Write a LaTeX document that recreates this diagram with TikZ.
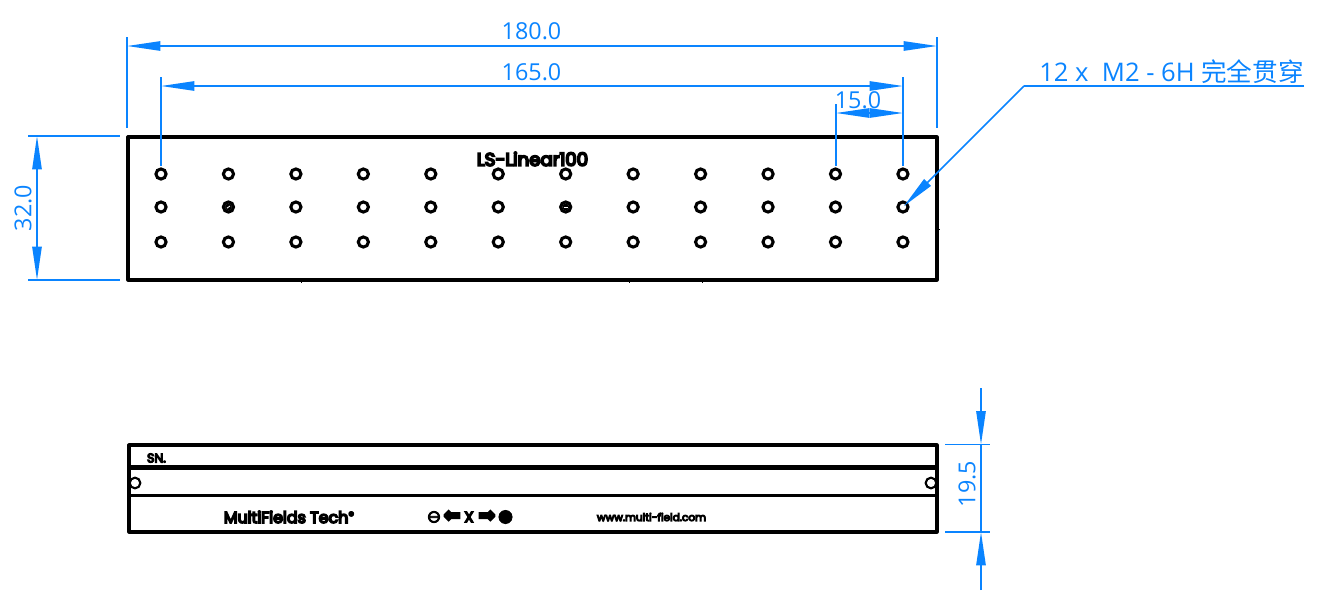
\documentclass[tikz,border=0pt]{standalone}
\usepackage{fontspec}
\setmainfont{Open Sans}
\newfontfamily\cjk{Noto Sans CJK SC}
\newfontfamily\labelfont[RawFeature={embolden=10}]{Poppins}
\newfontfamily\symfont[RawFeature={embolden=5}]{DejaVu Sans}
\newfontfamily\arrowfont[RawFeature={embolden=16}]{DejaVu Sans}
\usetikzlibrary{arrows.meta}
\definecolor{dimblue}{HTML}{0A84FF}
\tikzset{
  part/.style={draw=black,line width=2.4pt,line join=round},
  hairline/.style={draw=dimblue,line width=1.2pt},
  dimline/.style={hairline,{Triangle[length=25pt,width=7pt]}-{Triangle[length=25pt,width=7pt]}},
  tiponly/.style={hairline,-{Triangle[length=25pt,width=7pt]}},
  dimtext/.style={text=dimblue,font=\fontsize{17.5}{20}\selectfont,inner sep=0pt},
  notetext/.style={text=dimblue,font=\fontsize{19.2}{22}\selectfont,inner sep=0pt},
  hole/.style={circle,draw=black,line width=2.3pt,minimum size=7.6pt,inner sep=0pt},
  sidehole/.style={circle,draw=black,line width=1.6pt,minimum size=8pt,inner sep=0pt},
  brand/.style={text=black,inner sep=0pt,font=\labelfont\fontsize{#1}{#1}\selectfont},
  sym/.style={text=black,inner sep=0pt,font=\symfont\fontsize{#1}{#1}\selectfont},
  arrowsym/.style={text=black,inner sep=0pt,font=\arrowfont\fontsize{#1}{#1}\selectfont},
  burr/.style={draw=black,line width=0.7pt},
}
\begin{document}
\begin{tikzpicture}[x=0.75pt,y=-0.75pt]
\useasboundingbox (0,0) rectangle (1318,607);
% top view
\draw[part] (128,137) rectangle (937,280);
\draw[burr] (301,281) -- (301,282.5);
\draw[burr] (629,281) -- (629,282.5);
\draw[burr] (702,281) -- (702,282.5);
\draw[burr] (938,229) -- (939.5,229);
\node[brand=13.6] (title) at (532.5,159) {LS-Linear100};
\foreach \c in {0,...,11}{
  \pgfmathsetmacro\hx{161+\c*67.45}
  \node[hole] (ha\c) at (\hx,174) {};
  \node[hole] (hb\c) at (\hx,207) {};
  \node[hole] (hc\c) at (\hx,242) {};
}
\fill[black] (hb1) circle (3.5);
\draw[white,line width=0.6pt] ([shift={(-1.5,1.2)}]hb1.center) -- ([shift={(1.5,-1)}]hb1.center);
\fill[black] (hb6) circle (3.5);
\draw[white,line width=0.6pt] ([shift={(-2,0)}]hb6.center) -- ([shift={(2,0)}]hb6.center);
% 180
\coordinate (a1) at (127,37); \coordinate (a2) at (127,128);
\coordinate (a3) at (937,37); \coordinate (a4) at (937,128);
\coordinate (a5) at (127,46); \coordinate (a6) at (937,46);
\draw[hairline] (a1) -- (a2); \draw[hairline] (a3) -- (a4);
\draw[dimline] (a5) -- (a6);
\node[dimtext] (t180) at (531.5,31.5) {180.0};
% 165
\coordinate (b1) at (161,77); \coordinate (b2) at (161,166);
\coordinate (b3) at (903,77); \coordinate (b4) at (903,166);
\coordinate (b5) at (161,86); \coordinate (b6) at (903,86);
\draw[hairline] (b1) -- (b2); \draw[hairline] (b3) -- (b4);
\draw[dimline] (b5) -- (b6);
\node[dimtext] (t165) at (531.5,72.5) {165.0};
% 15
\coordinate (c1) at (836,104); \coordinate (c2) at (836,166);
\coordinate (c5) at (836,113); \coordinate (c6) at (903,113);
\draw[hairline] (c1) -- (c2);
\draw[dimline] (c5) -- (c6);
\node[dimtext] (t15) at (858,100) {15.0};
% 32
\coordinate (d1) at (28,136); \coordinate (d2) at (120,136);
\coordinate (d3) at (28,280); \coordinate (d4) at (120,280);
\coordinate (d5) at (37,136); \coordinate (d6) at (37,280);
\draw[hairline] (d1) -- (d2); \draw[hairline] (d3) -- (d4);
\draw[dimline] (d5) -- (d6);
\node[dimtext,rotate=90] (t32) at (23,208) {32.0};
% leader
\coordinate (l1) at (1304,86); \coordinate (l2) at (1024,86); \coordinate (l3) at (904,206);
\draw[hairline] (l1) -- (l2);
\draw[tiponly] (l2) -- (l3);
\node[notetext,anchor=west] (tnote) at (1039,72) {12 x\ \ M2 - 6H {\cjk 完全贯穿}};
% side view
\draw[part] (129,445) rectangle (937,532);
\draw[part,line width=3.6pt] (129,467.5) -- (937,467.5);
\draw[part] (129,495.5) -- (937,495.5);
\node[sidehole] (sl) at (135,483) {};
\node[sidehole] (sr) at (931,483) {};
\node[brand=9.4] (sn) at (156.5,458) {SN.};
\node[brand=11.9] (mf) at (289,517) {MultiFields Tech\raisebox{2.5pt}{\fontsize{8.5}{8.5}\selectfont ®}};
\node[sym=13] (p1) at (434,517) {⊖};
\node[arrowsym=14] (p2) at (452,516.5) {⇐};
\node[brand=11] (p3) at (469,517) {X};
\node[arrowsym=14] (p4) at (487,516.5) {⇒};
\node[sym=13] (p5) at (505.5,517) {●};
\node[brand=7.9] (web) at (651.5,517) {www.multi-field.com};
% 19.5
\coordinate (e1) at (945,444.5); \coordinate (e2) at (990,444.5);
\coordinate (e3) at (945,532); \coordinate (e4) at (990,532);
\coordinate (e5) at (981,388); \coordinate (e6) at (981,444.5);
\coordinate (e7) at (981,590); \coordinate (e8) at (981,532);
\draw[hairline] (e1) -- (e2); \draw[hairline] (e3) -- (e4);
\draw[tiponly] (e5) -- (e6); \draw[tiponly] (e7) -- (e8);
\draw[hairline] (e6) -- (e8);
\node[dimtext,rotate=90] (t195) at (967,484) {19.5};
\end{tikzpicture}
\end{document}
